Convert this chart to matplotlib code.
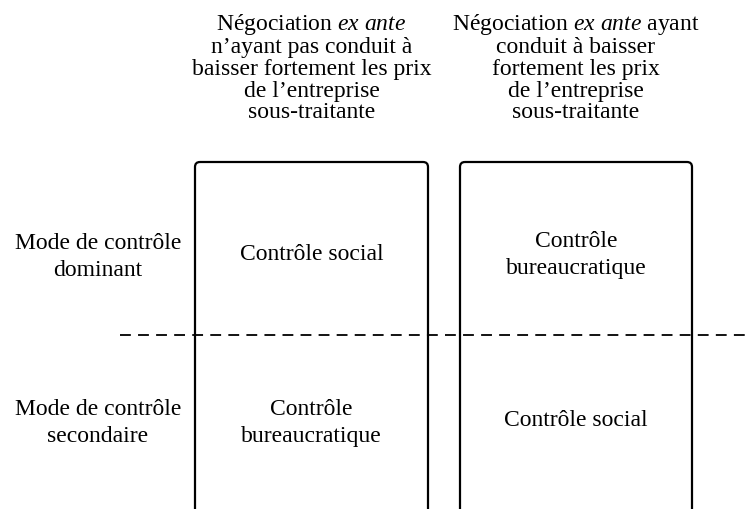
import matplotlib
matplotlib.use("Agg")
import matplotlib.pyplot as plt
from matplotlib.patches import FancyBboxPatch

plt.rcParams['font.family'] = ['Liberation Serif', 'DejaVu Serif']
plt.rcParams['mathtext.fontset'] = 'custom'
plt.rcParams['mathtext.rm'] = 'Liberation Serif'
plt.rcParams['mathtext.it'] = 'Liberation Serif:italic'

# contenu du tableau
col_headers = [
    "Négociation $\\mathit{ex\\ ante}$\nn’ayant pas conduit à\nbaisser fortement les prix\nde l’entreprise\nsous-traitante",
    "Négociation $\\mathit{ex\\ ante}$ ayant\nconduit à baisser\nfortement les prix\nde l’entreprise\nsous-traitante",
]
row_labels = ["Mode de contrôle\ndominant", "Mode de contrôle\nsecondaire"]
cells = [
    ["Contrôle social", "Contrôle\nbureaucratique"],
    ["Contrôle\nbureaucratique", "Contrôle social"],
]

# géométrie (en pixels)
col_left = [195, 460]
col_right = [428, 692]
box_top = 162
split_y = 335
row_y = [257, 423]
cell_y = [[255, 255], [423, 420]]
fs = 17

fig = plt.figure(figsize=(7.51, 5.09), dpi=100)
ax = fig.add_axes([0, 0, 1, 1])
ax.set_xlim(0, 751)
ax.set_ylim(509, 0)
ax.axis('off')

for j in range(2):
    l, r = col_left[j], col_right[j]
    box = FancyBboxPatch((l, box_top), r - l, 600,
                         boxstyle="round,pad=0,rounding_size=5",
                         fc='none', ec='black', lw=1.6)
    ax.add_patch(box)
    cx = (l + r) / 2
    ax.text(cx, 67.5, col_headers[j], ha='center', va='center',
            fontsize=fs, linespacing=1.04)
    for i in range(2):
        ax.text(cx, cell_y[i][j], cells[i][j], ha='center', va='center',
                fontsize=fs, linespacing=1.43)

for i in range(2):
    ax.text(98, row_y[i], row_labels[i], ha='center', va='center',
            fontsize=fs, linespacing=1.43)

ax.plot([120, 751], [split_y, split_y], color='black', lw=1.3,
        linestyle=(0, (6, 4)))

fig.savefig("out.png", dpi=100)
